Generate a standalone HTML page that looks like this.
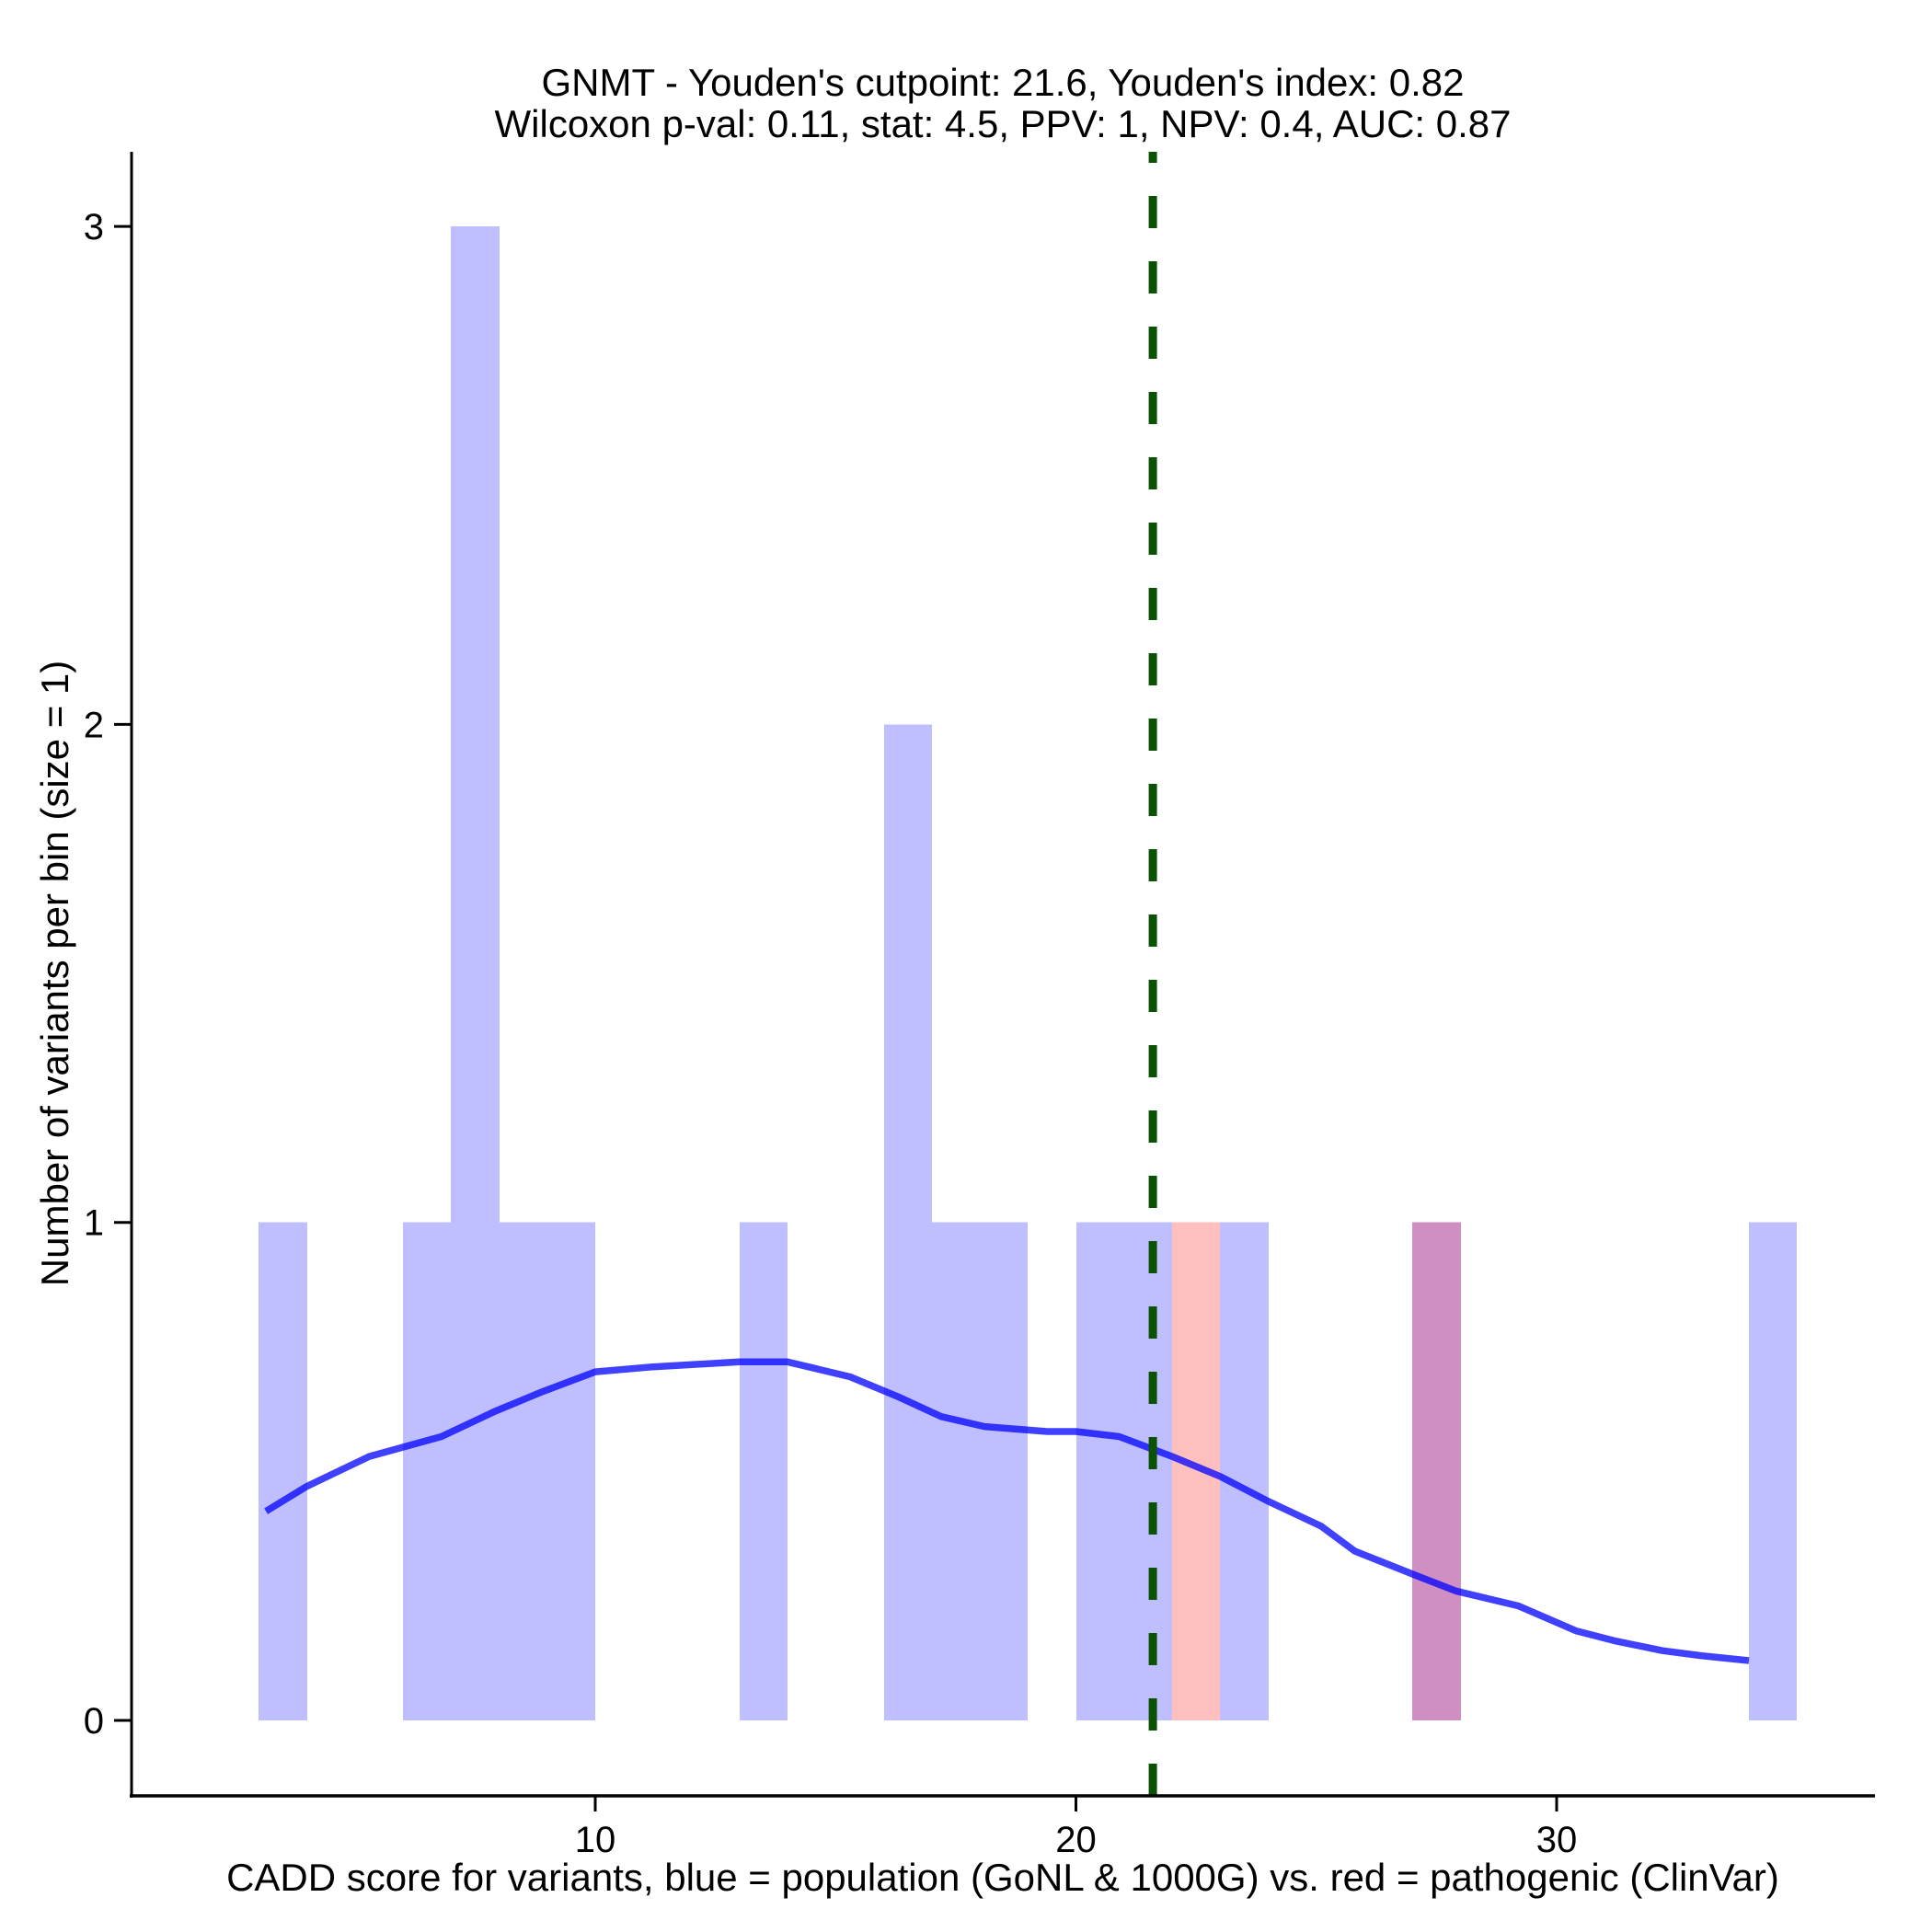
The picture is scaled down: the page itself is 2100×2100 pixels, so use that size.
<!DOCTYPE html>
<html><head><meta charset="utf-8"><style>
html,body{margin:0;padding:0;background:#fff;}
svg{display:block;font-family:"Liberation Sans",Arial,sans-serif;}
</style></head><body>
<svg id="chart" width="2100" height="2100" viewBox="0 0 2100 2100" xmlns="http://www.w3.org/2000/svg">
<rect width="2100" height="2100" fill="#fff"/>
<g id="bars" shape-rendering="crispEdges"></g>
<g id="density"></g>
<g id="cut"></g>
<g id="axes"></g>
<text x="1090" y="104" text-anchor="middle" font-size="42">GNMT - Youden's cutpoint: 21.6, Youden's index: 0.82</text>
<text x="1090" y="149" text-anchor="middle" font-size="42">Wilcoxon p-val: 0.11, stat: 4.5, PPV: 1, NPV: 0.4, AUC: 0.87</text>
<text x="1090" y="2055" text-anchor="middle" font-size="42">CADD score for variants, blue = population (GoNL &amp; 1000G) vs. red = pathogenic (ClinVar)</text>
<text transform="translate(74,1058) rotate(-90)" text-anchor="middle" font-size="42">Number of variants per bin (size = 1)</text>
</svg>
<script>
const blueBinStarts = [3,6,7,8,9,13,16,17,18,20,21,23,27,34];
const blueCounts    = [1,1,3,1,1,1,2,1,1,1,1,1,1,1];
const redBinStarts  = [22,27];
const redCounts     = [1,1];
const densityX = [3.15,4.0,5.3,6.8,7.9,8.9,10,11.2,13,14,15.3,16.3,17.2,18.1,19.4,20,20.9,22,23,24,25.1,25.8,27.1,27.9,29.2,30.4,31.2,32.2,33,34];
const densityY = [0.42,0.47,0.53,0.57,0.62,0.66,0.70,0.71,0.72,0.72,0.69,0.65,0.61,0.59,0.58,0.58,0.57,0.53,0.49,0.44,0.39,0.34,0.29,0.26,0.23,0.18,0.16,0.14,0.13,0.12];
const cutpoint = 21.6;
const xTicks = [10,20,30];
const yTicks = [0,1,2,3];

const NS = "http://www.w3.org/2000/svg";
function X(v){return 647 + (v-10)*52.25;}
function Y(v){return 1870 - v*541.3;}
function mk(tag, attrs, parent){const e=document.createElementNS(NS,tag);for(const k in attrs)e.setAttribute(k,attrs[k]);parent.appendChild(e);return e;}
const bars=document.getElementById('bars');
blueBinStarts.forEach((b,i)=>{
  const r=mk('rect',{x:Math.round(X(b)),y:Y(blueCounts[i]),width:Math.round(X(b+1))-Math.round(X(b)),height:Y(0)-Y(blueCounts[i]),fill:'#bfbfff'},bars);
  
  
});
redBinStarts.forEach((b,i)=>{
  const overlap = blueBinStarts.indexOf(b)>=0;
  const r=mk('rect',{x:Math.round(X(b)),y:Y(redCounts[i]),width:Math.round(X(b+1))-Math.round(X(b)),height:Y(0)-Y(redCounts[i]),fill:overlap?'#cf8fc2':'#ffbfbf'},bars);
  
  
});
const dens=document.getElementById('density');
const pts=densityX.map((x,i)=>X(x).toFixed(1)+','+Y(densityY[i]).toFixed(1)).join(' ');
const pl=mk('polyline',{points:pts,fill:'none',stroke:'#0000ff','stroke-opacity':'0.75','stroke-width':'7.5','stroke-linejoin':'round'},dens);


const cut=document.getElementById('cut');
const cl=mk('line',{x1:X(cutpoint),x2:X(cutpoint),y1:1952,y2:165,stroke:'#0b5204','stroke-width':'9','stroke-dasharray':'35 36'},cut);


const ax=document.getElementById('axes');
const ya=mk('line',{x1:143,x2:143,y1:165,y2:1954,stroke:'#000','stroke-width':'3'},ax);


const xa=mk('line',{x1:141,x2:2038,y1:1952,y2:1952,stroke:'#000','stroke-width':'3.5'},ax);


xTicks.forEach(t=>{
  const l=mk('line',{x1:X(t),x2:X(t),y1:1952,y2:1969,stroke:'#000','stroke-width':'3'},ax);
  
  
  const tx=mk('text',{x:X(t),y:2013,'text-anchor':'middle','font-size':'40'},ax);
  tx.textContent=t;
  
  
});
yTicks.forEach(t=>{
  const l=mk('line',{x1:124,x2:143,y1:Y(t),y2:Y(t),stroke:'#000','stroke-width':'3'},ax);
  
  
  const tx=mk('text',{x:113,y:Y(t)+14,'text-anchor':'end','font-size':'40'},ax);
  tx.textContent=t;
  
  
});
</script>
</body></html>
